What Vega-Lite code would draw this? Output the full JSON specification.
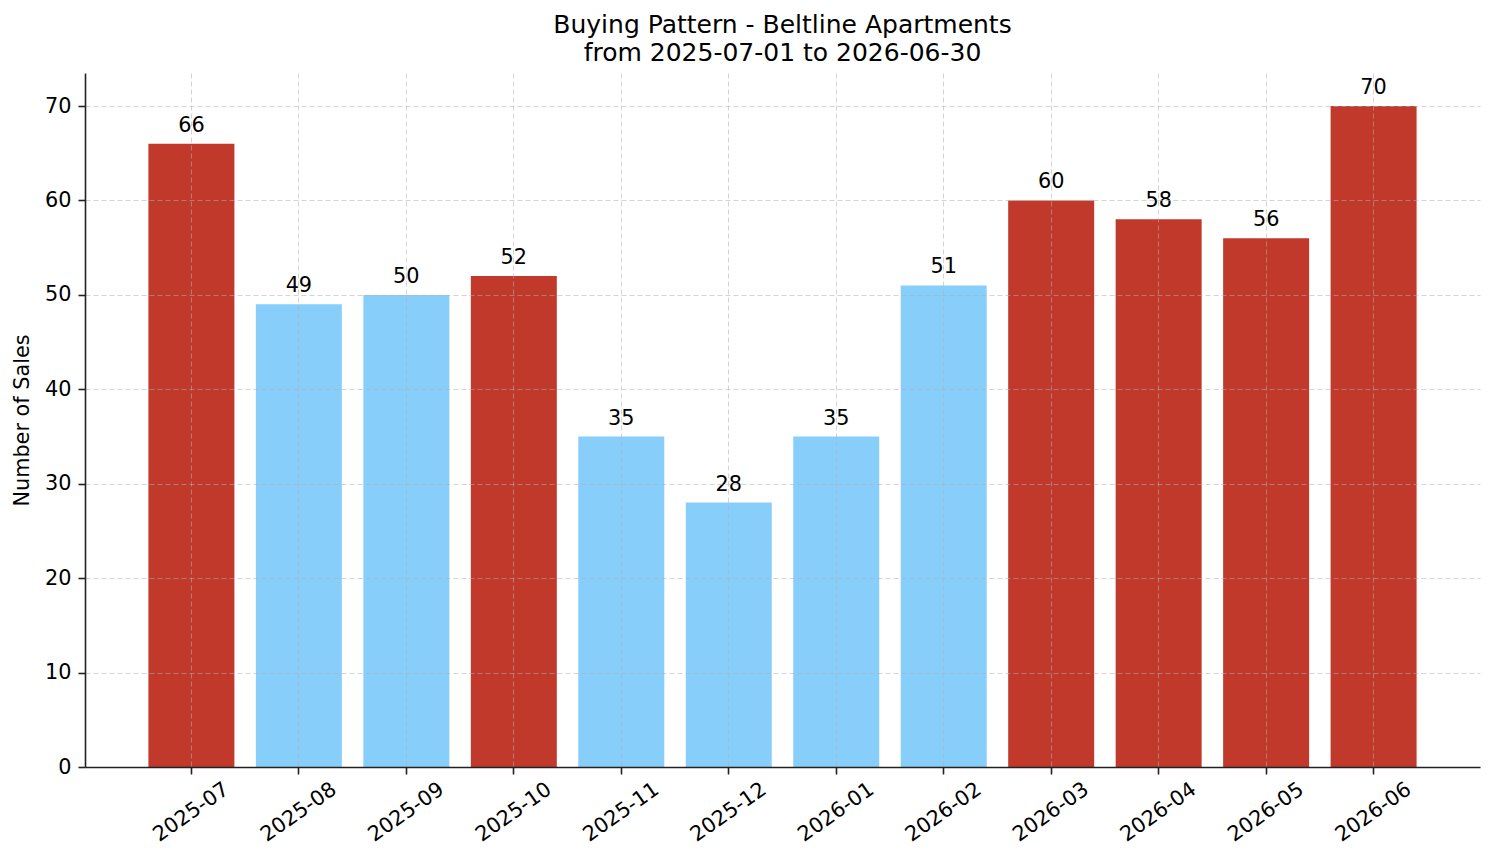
{
  "$schema": "https://vega.github.io/schema/vega-lite/v6.json",
  "width": 1395,
  "height": 694,
  "autosize": {"type": "none"},
  "padding": {"left": 85, "top": 73, "right": 14, "bottom": 96},
  "background": "white",
  "config": {
    "font": "DejaVu Sans",
    "view": {"stroke": null},
    "axis": {
      "labelFont": "DejaVu Sans",
      "titleFont": "DejaVu Sans",
      "labelFontSize": 20.8,
      "titleFontSize": 20.8,
      "labelColor": "#000000",
      "titleColor": "#000000",
      "titleFontWeight": "normal",
      "domainColor": "#222222",
      "domainWidth": 1.6,
      "tickColor": "#222222",
      "tickWidth": 1.6,
      "tickSize": 7,
      "gridColor": "#b0b0b0",
      "gridOpacity": 0.55,
      "gridWidth": 1,
      "gridDash": [5, 3]
    }
  },
  "title": {
    "text": ["Buying Pattern - Beltline Apartments", "from 2025-07-01 to 2026-06-30"],
    "font": "DejaVu Sans",
    "fontSize": 25,
    "fontWeight": "normal",
    "color": "#000000",
    "lineHeight": 28.5,
    "anchor": "middle",
    "offset": 7
  },
  "data": {
    "values": [
      {"month": "2025-07", "sales": 66, "tier": "high"},
      {"month": "2025-08", "sales": 49, "tier": "low"},
      {"month": "2025-09", "sales": 50, "tier": "low"},
      {"month": "2025-10", "sales": 52, "tier": "high"},
      {"month": "2025-11", "sales": 35, "tier": "low"},
      {"month": "2025-12", "sales": 28, "tier": "low"},
      {"month": "2026-01", "sales": 35, "tier": "low"},
      {"month": "2026-02", "sales": 51, "tier": "low"},
      {"month": "2026-03", "sales": 60, "tier": "high"},
      {"month": "2026-04", "sales": 58, "tier": "high"},
      {"month": "2026-05", "sales": 56, "tier": "high"},
      {"month": "2026-06", "sales": 70, "tier": "high"}
    ]
  },
  "encoding": {
    "x": {
      "field": "month",
      "type": "ordinal",
      "sort": null,
      "scale": {"paddingInner": 0.2, "paddingOuter": 0.59},
      "axis": {
        "title": null,
        "zindex": 1,
        "grid": true,
        "bandPosition": 0.5,
        "labelAngle": -35,
        "labelAlign": "center",
        "labelBaseline": "middle",
        "labelPadding": 38,
        "labelOverlap": false,
        "labelBound": false
      }
    },
    "y": {
      "field": "sales",
      "type": "quantitative",
      "scale": {"domain": [0, 73.5], "nice": false, "zero": true},
      "axis": {
        "title": "Number of Sales",
        "zindex": 1,
        "values": [0, 10, 20, 30, 40, 50, 60, 70],
        "labelPadding": 7,
        "titlePadding": 12
      }
    }
  },
  "layer": [
    {
      "mark": {"type": "bar"},
      "encoding": {
        "color": {
          "field": "tier",
          "type": "nominal",
          "scale": {"domain": ["high", "low"], "range": ["#c0392b", "#87cefa"]},
          "legend": null
        }
      }
    },
    {
      "mark": {
        "type": "text",
        "baseline": "alphabetic",
        "align": "center",
        "dy": -12,
        "fontSize": 20.8,
        "font": "DejaVu Sans",
        "color": "#000000"
      },
      "encoding": {
        "text": {"field": "sales", "type": "quantitative"}
      }
    }
  ]
}
